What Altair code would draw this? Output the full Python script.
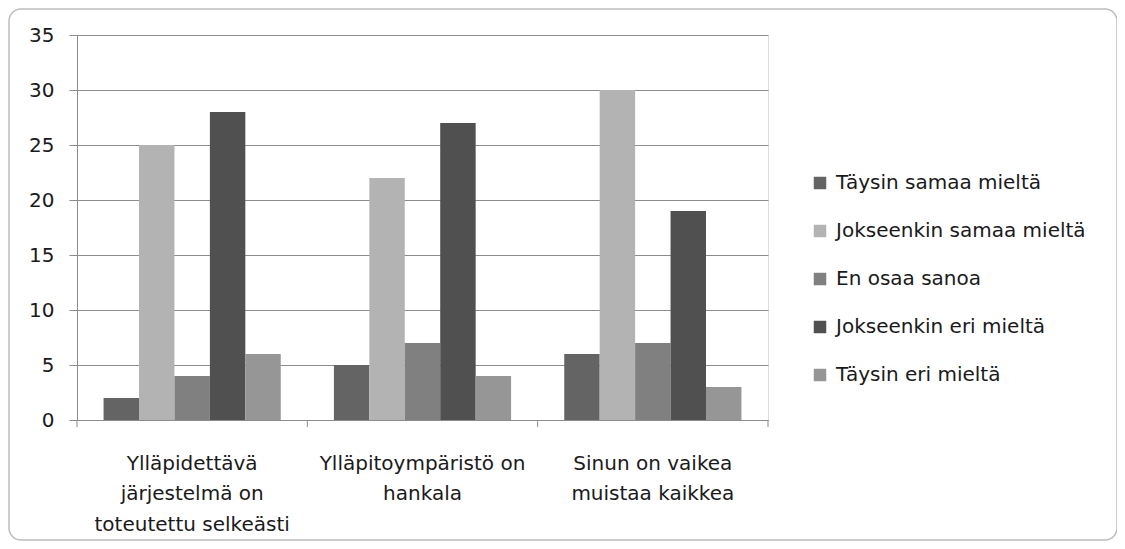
import altair as alt
import pandas as pd

categories = ["Ylläpidettävä|järjestelmä on|toteutettu selkeästi",
              "Ylläpitoympäristö on|hankala",
              "Sinun on vaikea|muistaa kaikkea"]
series = ["Täysin samaa mieltä", "Jokseenkin samaa mieltä", "En osaa sanoa",
          "Jokseenkin eri mieltä", "Täysin eri mieltä"]
values = {
    "Täysin samaa mieltä": [2, 5, 6],
    "Jokseenkin samaa mieltä": [25, 22, 30],
    "En osaa sanoa": [4, 7, 7],
    "Jokseenkin eri mieltä": [28, 27, 19],
    "Täysin eri mieltä": [6, 4, 3],
}
colors = ["#646464", "#b3b3b3", "#808080", "#505050", "#969696"]
boundaries = [0, 1, 2, 3]

rows = []
for s in series:
    for c, v in zip(categories, values[s]):
        rows.append({"cat": c, "series": s, "value": v})
df = pd.DataFrame(rows)

FONT = "DejaVu Sans"
FS = 20
TXT = "#1a1a1a"
W, H = 691, 385

frame = alt.Chart(alt.Data(values=[{}])).mark_rect(
    fill="transparent", stroke="#bdbdbd", strokeWidth=1.5, cornerRadius=12
).encode(
    x=alt.value(-68), x2=alt.value(1040), y=alt.value(-26), y2=alt.value(505)
)

bars = alt.Chart(df).mark_bar().encode(
    x=alt.X("cat:N", sort=categories, title=None,
            scale=alt.Scale(paddingInner=0, paddingOuter=0),
            axis=alt.Axis(labelExpr="split(datum.label, '|')", labelAngle=0,
                          labelFont=FONT, labelFontSize=FS, labelColor=TXT,
                          labelLineHeight=30.5, labelBaseline="top",
                          labelPadding=33, ticks=False, domainColor="#8c8c8c",
                          grid=False, labelLimit=300)),
    xOffset=alt.XOffset("series:N", sort=series,
                        scale=alt.Scale(paddingOuter=0.75, paddingInner=0)),
    y=alt.Y("value:Q", title=None,
            scale=alt.Scale(domain=[0, 35]),
            axis=alt.Axis(values=[0, 5, 10, 15, 20, 25, 30, 35], labelFont=FONT,
                          labelFontSize=FS, labelColor=TXT, tickSize=8,
                          tickColor="#8c8c8c", domainColor="#8c8c8c",
                          gridColor="#8c8c8c", labelPadding=15)),
    color=alt.Color("series:N", sort=series, title=None,
                    scale=alt.Scale(domain=series, range=colors),
                    legend=alt.Legend(orient="none", legendX=733, legendY=138,
                                      labelFont=FONT, labelFontSize=FS,
                                      labelColor=TXT, symbolType="square",
                                      symbolSize=156, symbolStrokeWidth=0,
                                      rowPadding=28, labelOffset=6,
                                      labelLimit=400)),
)

ticks = alt.Chart(pd.DataFrame({"b": boundaries})).mark_rule(
    color="#8c8c8c", strokeWidth=1
).encode(
    x=alt.X("b:Q", scale=alt.Scale(domain=[0, 3]), axis=None),
    y=alt.value(H), y2=alt.value(H + 7),
)

chart = alt.layer(frame, bars, ticks).resolve_scale(x="independent").properties(
    width=W, height=H,
    autosize=alt.AutoSizeParams(type="none"),
    padding={"left": 69, "top": 27, "right": 349, "bottom": 121},
).configure_view(stroke=None).configure(background="white")

chart.save("out.html", embed_options={"renderer": "svg", "actions": False})
